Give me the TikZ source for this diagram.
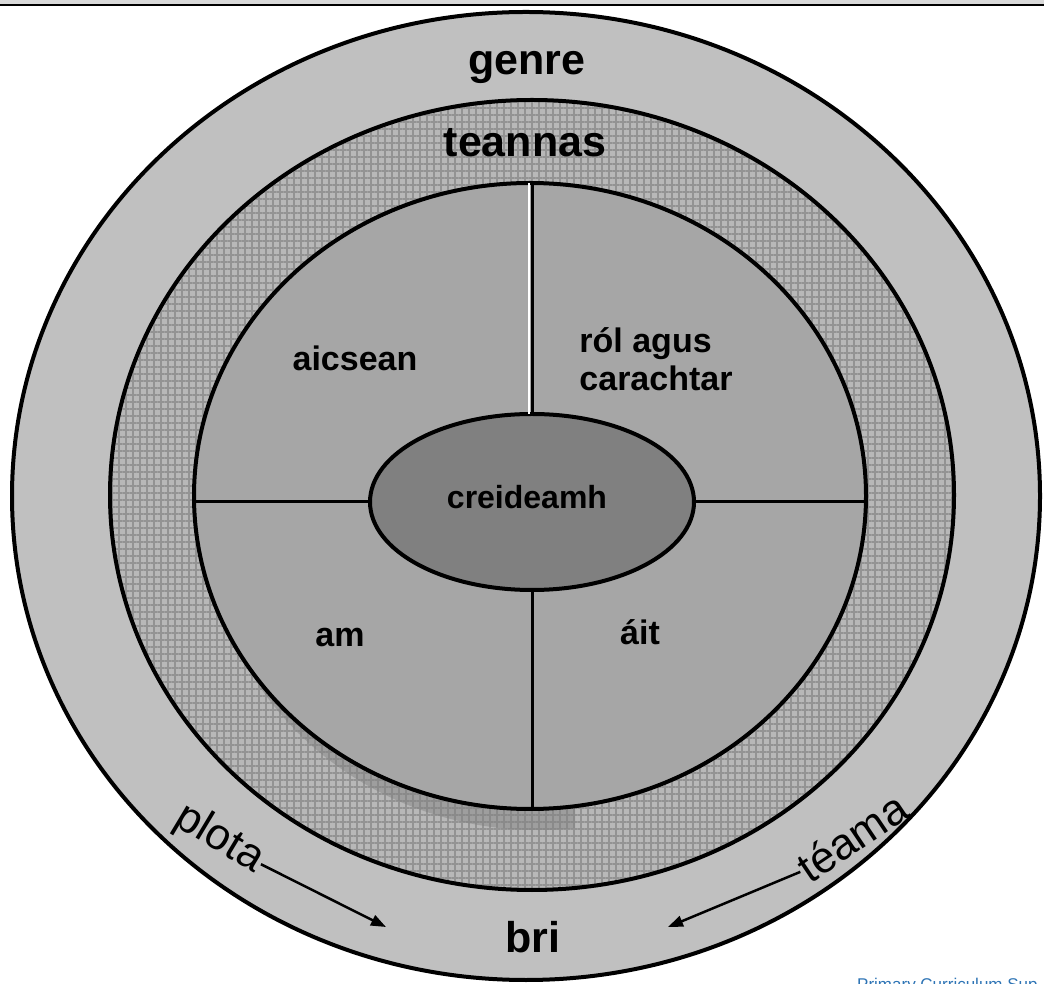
\documentclass[tikz,border=0pt]{standalone}
\usepackage{fontspec}
\setmainfont{Liberation Sans}
\usepackage{xcolor}
\usetikzlibrary{arrows.meta,positioning,shapes.geometric,patterns.meta}

\definecolor{bandgray}{HTML}{C0C0C0}
\definecolor{ringgray}{HTML}{B8B8B8}
\definecolor{gridgray}{HTML}{939393}
\definecolor{quadgray}{HTML}{A6A6A6}
\definecolor{coregray}{HTML}{808080}
\definecolor{bargray}{HTML}{D9D9D9}
\definecolor{noteblue}{HTML}{2E74B5}

\begin{document}
\begin{tikzpicture}[
  x=1pt, y=1pt, >={Triangle[length=15pt,width=11pt]},
  layer/.style={ellipse, draw, line width=4pt, inner sep=0pt, outer sep=0pt},
  ringlabel/.style={font=\bfseries\fontsize{43}{48}\selectfont},
  quadlabel/.style={font=\bfseries\fontsize{34}{38}\selectfont, align=left},
  flowlabel/.style={font=\fontsize{44}{48}\selectfont, inner sep=1pt},
  divider/.style={line width=3pt},
  flow/.style={->, line width=2.5pt}
]
\useasboundingbox (0,0) rectangle (1044,983);
% top bar
\fill[bargray] (0,978) rectangle (1044,983);
\draw[line width=2pt] (0,978) -- (1044,978);

% rings
\node[layer, fill=bandgray, minimum width=1028pt, minimum height=968pt] (genre) at (526,487) {};
\node[layer, preaction={fill=ringgray},
  preaction={pattern={Lines[angle=0,distance=7pt,line width=1.1pt]}, pattern color=gridgray},
  preaction={pattern={Lines[angle=90,distance=7pt,line width=1.1pt]}, pattern color=gridgray},
  minimum width=844pt, minimum height=790pt] (teannas) at (532,488) {};

% shadow under the story wheel
\begin{scope}
  \clip (0,0) rectangle (575,983);
  \fill[gray, opacity=.45] (538,463) ellipse (330 and 310);
\end{scope}

\node[layer, fill=quadgray, minimum width=672pt, minimum height=626pt] (wheel) at (530,487) {};
\node[layer, fill=coregray, minimum width=324pt, minimum height=176pt] (core) at (532,481) {};

% quarters
\draw[divider] (core.west) -- (core.west -| wheel.west);
\draw[divider] (core.east) -- (core.east -| wheel.east);
\draw[divider] (core.south) -- (core.south |- wheel.south);
\draw[white, line width=1.5pt] ([xshift=-3pt]core.north) -- ([xshift=-3pt]core.north |- wheel.north);
\draw[divider] (core.north) -- (core.north |- wheel.north);

% labels
\node[ringlabel] (genrelbl) at (527,916) {genre};
\node[ringlabel] (teannaslbl) at (525,840) {teannas};
\node[ringlabel] (bri) at (533,46) {bri};
\node[quadlabel] (aicsean) at (355,625) {aicsean};
\node[quadlabel] (rol) at (656,624) {ról agus\\carachtar};
\node[quadlabel] (am) at (340,345) {am};
\node[quadlabel] (ait) at (640,351) {áit};
\node[font=\bfseries\fontsize{32}{36}\selectfont] (creideamh) at (527,486) {creideamh};

% plot and theme lead to meaning
\node[flowlabel, rotate=-31] (plota) at (219,144) {plota};
\node[flowlabel, rotate=34] (teama) at (852,146) {téama};
\coordinate (plotaend) at (386,56);
\coordinate (teamaend) at (668,56);
\draw[flow] (plota.east) -- (plotaend);
\draw[flow] (teama.west) -- (teamaend);

\node[anchor=north west, inner sep=0pt, text=noteblue, font=\fontsize{17}{19}\selectfont] (note) at (857,5) {Primary Curriculum Sup};
\end{tikzpicture}
\end{document}
